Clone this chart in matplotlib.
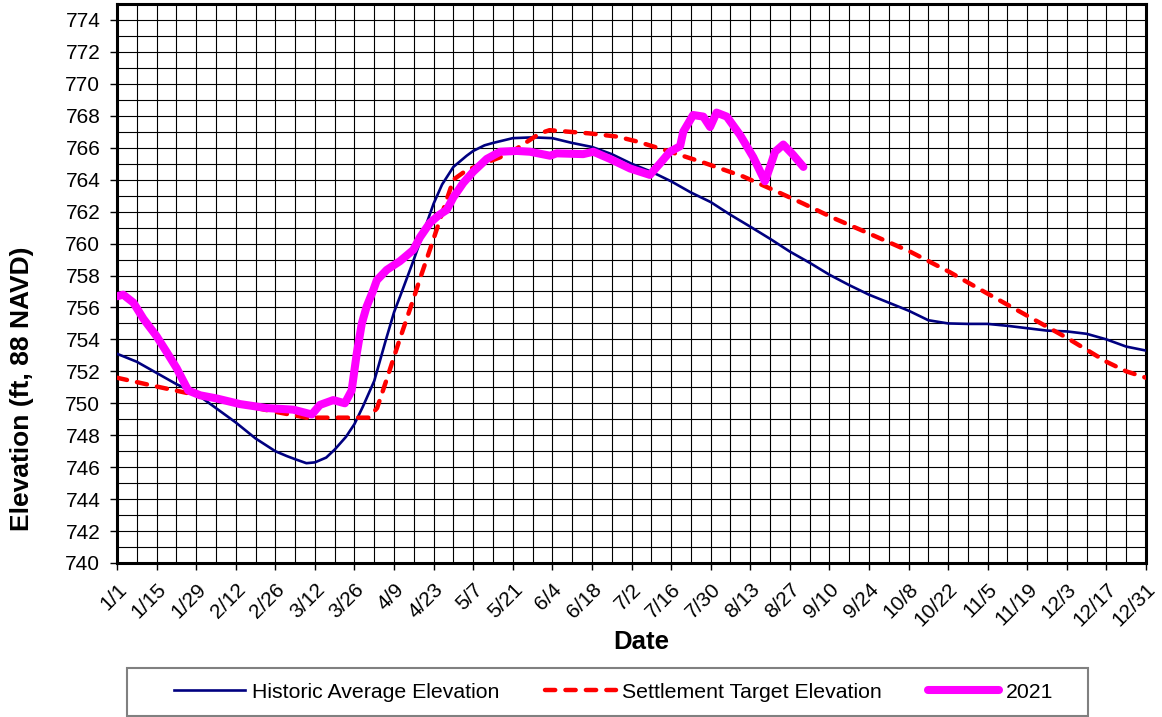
import matplotlib
matplotlib.use("Agg")
import matplotlib.pyplot as plt
from matplotlib.lines import Line2D
from matplotlib.patches import Rectangle
from matplotlib.transforms import ScaledTranslation

plt.rcParams['font.family'] = ['Liberation Sans', 'DejaVu Sans']

# ---- data (day of year offset from 1/1, elevation ft) ----
hist_days = [0, 7, 14, 21, 28, 35, 42, 49, 56, 60, 63, 67, 70, 74, 77, 81, 84, 87,
             91, 95, 98, 101, 105, 109, 112, 115, 119, 123.7, 126, 130, 133, 140,
             147, 154, 161, 168, 175, 182, 189, 196, 203, 210, 217, 224, 231, 238,
             245, 252, 259, 266, 273, 280, 287, 294, 301, 308, 315, 322, 329, 336,
             343, 350, 357, 364]
hist_vals = [753.1, 752.6, 751.9, 751.2, 750.6, 749.7, 748.8, 747.8, 747.0, 746.7,
             746.5, 746.25, 746.3, 746.6, 747.1, 747.9, 748.7, 749.8, 751.4, 753.9,
             755.7, 757.1, 759.0, 761.0, 762.5, 763.7, 764.8, 765.5, 765.8, 766.15,
             766.3, 766.6, 766.65, 766.6, 766.3, 766.05, 765.6, 765.0, 764.5, 763.9,
             763.2, 762.6, 761.8, 761.06, 760.3, 759.5, 758.8, 758.05, 757.4, 756.8,
             756.3, 755.8, 755.2, 755.0, 754.97, 754.97, 754.85, 754.7, 754.55,
             754.5, 754.35, 754.0, 753.55, 753.3]

target_days = [0, 14, 26, 41, 55, 67, 89, 92, 95.4, 100, 104.8, 107, 111.8, 115.4,
               119, 123.7, 129.6, 135.5, 141.4, 149.6, 153, 167, 176.8, 183.8, 193,
               207, 221.5, 231, 242.8, 253.4, 266.4, 280.5, 294.7, 307.6, 321.8, 336,
               350, 357, 364]
target_vals = [751.6, 751.05, 750.6, 750.0, 749.5, 749.1, 749.1, 749.7, 751.5, 754.0,
               756.5, 757.7, 760.2, 762.1, 764.0, 764.6, 765.0, 765.4, 765.95, 766.9,
               767.1, 766.9, 766.7, 766.4, 765.9, 765.1, 764.2, 763.45, 762.5, 761.6,
               760.6, 759.5, 758.2, 756.9, 755.5, 754.1, 752.6, 752.0, 751.6]

y2021_days = [0, 2.2, 5.8, 9.3, 14, 17.6, 21.1, 25.2, 29.4, 35.3, 43.5, 53, 62.4, 68.9,
              71.8, 76.5, 80.6, 83, 84.8, 86.6, 88.3, 90.7, 91.9, 95.4, 100.1, 104.8,
              107.2, 110.7, 114, 116.6, 119, 122.5, 126, 130.8, 135.5, 141.4, 146.1,
              153.2, 155.5, 164.9, 168.5, 174.4, 181.5, 188.5, 192, 195.6, 199.2,
              200.3, 203.8, 207.4, 209.8, 212.1, 215.7, 220.4, 225.1, 229.2, 231,
              232.8, 235.7, 239.2, 242.8]
y2021_vals = [756.7, 756.8, 756.3, 755.3, 754.2, 753.2, 752.2, 750.8, 750.5, 750.3,
              749.95, 749.7, 749.6, 749.3, 749.9, 750.2, 750.0, 750.8, 753.1, 755.0,
              756.05, 757.1, 757.7, 758.35, 758.9, 759.6, 760.4, 761.3, 761.8, 762.1,
              762.9, 763.8, 764.5, 765.3, 765.75, 765.8, 765.75, 765.5, 765.65, 765.6,
              765.75, 765.3, 764.7, 764.3, 765.0, 765.75, 766.1, 767.0, 768.05, 767.95,
              767.3, 768.2, 767.95, 766.8, 765.4, 763.9, 764.8, 765.75, 766.2, 765.55,
              764.8]

tick_days = list(range(0, 365, 14))
tick_labels = ['1/1', '1/15', '1/29', '2/12', '2/26', '3/12', '3/26', '4/9', '4/23',
               '5/7', '5/21', '6/4', '6/18', '7/2', '7/16', '7/30', '8/13', '8/27',
               '9/10', '9/24', '10/8', '10/22', '11/5', '11/19', '12/3', '12/17',
               '12/31']
series_names = ['Historic Average Elevation', 'Settlement Target Elevation', '2021']

# ---- figure ----
W, H = 1162, 717
fig = plt.figure(figsize=(W / 100, H / 100), dpi=100)
ax = fig.add_axes([117 / W, (H - 563) / H, (1146 - 117) / W, (563 - 4) / H])

ax.set_xlim(0, 364)
ax.set_ylim(740, 775)

ax.set_xticks(tick_days)
ax.set_xticklabels(tick_labels)
ax.set_xticks(range(0, 365, 7), minor=True)
ax.set_yticks(range(740, 775, 2))
ax.set_yticks(range(740, 776, 1), minor=True)

ax.grid(True, which='both', color='black', linewidth=0.8)
ax.set_axisbelow(True)

ax.tick_params(axis='both', which='major', direction='out', length=5, width=1,
               labelsize=15, color='black')
ax.tick_params(axis='both', which='minor', length=0)
ax.tick_params(axis='y', pad=7)
ax.tick_params(axis='x', pad=7)

offset = ScaledTranslation(0 / 100, 0, fig.dpi_scale_trans)
for lab in ax.get_xticklabels():
    lab.set_rotation(45)
    lab.set_ha('right')
    lab.set_va('top')
    lab.set_rotation_mode('anchor')
    lab.set_transform(lab.get_transform() + offset)

for sp in ax.spines.values():
    sp.set_linewidth(2.2)
    sp.set_color('black')

l1, = ax.plot(hist_days, hist_vals, color='#000080', lw=1.9, zorder=3,
              solid_joinstyle='round')
l2, = ax.plot(target_days, target_vals, color='#FF0000', lw=3.2, zorder=4,
              dashes=(2.3, 2.3), dash_capstyle='round')
l3, = ax.plot(y2021_days, y2021_vals, color='#FF00FF', lw=5.8, zorder=5,
              solid_capstyle='round', solid_joinstyle='round')

fig.text(22 / W, 1 - 389 / H, 'Elevation (ft, 88 NAVD)', rotation=90,
         ha='center', va='center', fontsize=19, fontweight='bold')
fig.text(641 / W, 1 - 642 / H, 'Date', ha='center', va='center',
         fontsize=18.5, fontweight='bold')

# legend
leg = fig.legend([l1, l2, l3], series_names, ncol=3, frameon=False,
                 loc='center', bbox_to_anchor=(613.5 / W, 1 - 692 / H),
                 fontsize=15.3, handlelength=3.35, handletextpad=0.3,
                 columnspacing=2.15)
fig.patches.append(Rectangle((127 / W, 1 / H), (1088 - 127) / W, 48 / H,
                             transform=fig.transFigure, fill=False,
                             edgecolor='#808080', linewidth=1.5))

fig.savefig('out.png', dpi=100)
